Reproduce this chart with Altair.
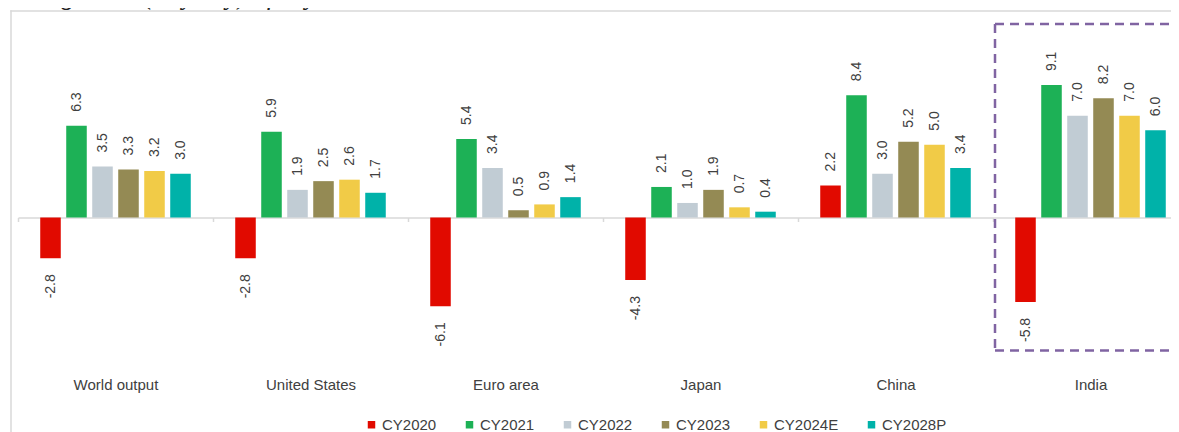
import altair as alt
import pandas as pd

title_text = "GDP growth (% y-o-y) of key economies"
countries = ["World output", "United States", "Euro area", "Japan", "China", "India"]
series = ["CY2020", "CY2021", "CY2022", "CY2023", "CY2024E", "CY2028P"]
colors = ["#E10A00", "#1DB156", "#C1CCD4", "#948A54", "#F1CB47", "#00B2A9"]
v2020 = [-2.8, -2.8, -6.1, -4.3, 2.2, -5.8]
v2021 = [6.3, 5.9, 5.4, 2.1, 8.4, 9.1]
v2022 = [3.5, 1.9, 3.4, 1.0, 3.0, 7.0]
v2023 = [3.3, 2.5, 0.5, 1.9, 5.2, 8.2]
v2024 = [3.2, 2.6, 0.9, 0.7, 5.0, 7.0]
v2028 = [3.0, 1.7, 1.4, 0.4, 3.4, 6.0]

rows = []
for s, vals in zip(series, [v2020, v2021, v2022, v2023, v2024, v2028]):
    for c, v in zip(countries, vals):
        rows.append({"country": c, "series": s, "value": v, "label": f"{v:.1f}"})
df = pd.DataFrame(rows)

FONT = "Liberation Sans"
TXT = "#404040"
GRID = "#D9D9D9"
W, H = 1153, 355
RIGHT = W + 8

x = alt.X(
    "country:N",
    sort=countries,
    scale=alt.Scale(range=[0, 1170], paddingInner=0, paddingOuter=0),
    axis=alt.Axis(
        title=None, labelAngle=0, offset=-145.5, tickBand="extent", ticks=True,
        tickSize=4, tickColor=GRID, tickWidth=1.5, domainColor=GRID,
        domainWidth=1.5, labelPadding=156, labelFontSize=15, labelColor=TXT,
        labelFont=FONT, grid=False,
    ),
)
xo = alt.XOffset("series:N", sort=series,
                 scale=alt.Scale(paddingInner=0.21, paddingOuter=0.855))
y = alt.Y("value:Q", scale=alt.Scale(domain=[-10, 14.4], nice=False, zero=False), axis=None)

base = alt.Chart(df)

bars = base.mark_bar().encode(
    x=x, xOffset=xo, y=y, y2=alt.datum(0),
    color=alt.Color(
        "series:N", sort=series,
        scale=alt.Scale(domain=series, range=colors),
        legend=alt.Legend(
            title=None, orient="none", direction="horizontal",
            legendX=346, legendY=409, symbolType="square", symbolSize=56,
            symbolStrokeWidth=0, labelFontSize=15, labelFont=FONT, labelColor=TXT,
            labelOffset=3, columnPadding=25, gridAlign="each", padding=0,
        ),
    ),
)

pos_lab = base.transform_filter("datum.value >= 0").mark_text(
    angle=270, align="left", baseline="middle", dx=14, fontSize=14, font=FONT, color=TXT
).encode(x=x, xOffset=xo, y=y, text="label:N")

neg_lab = base.transform_filter("datum.value < 0").mark_text(
    angle=270, align="right", baseline="middle", dx=-16, fontSize=14, font=FONT, color=TXT
).encode(x=x, xOffset=xo, y=y, text="label:N")

one = pd.DataFrame({"t": [title_text]})

frame_top = alt.Chart(one).mark_rect(color=GRID).encode(
    x=alt.value(-7.75), x2=alt.value(RIGHT), y=alt.value(2.25), y2=alt.value(3.75)
)
frame_left = alt.Chart(one).mark_rect(color=GRID).encode(
    x=alt.value(-7.75), x2=alt.value(-6.25), y=alt.value(2.25), y2=alt.value(H + 69)
)

PURPLE = "#8064A2"
box_top = alt.Chart(one).mark_rule(color=PURPLE, strokeWidth=2.5, strokeDash=[9, 6]).encode(
    x=alt.value(977), x2=alt.value(RIGHT), y=alt.value(16)
)
box_bottom = alt.Chart(one).mark_rule(color=PURPLE, strokeWidth=2.5, strokeDash=[9, 6]).encode(
    x=alt.value(977), x2=alt.value(RIGHT), y=alt.value(342.5)
)
box_left = alt.Chart(one).mark_rule(color=PURPLE, strokeWidth=2.5, strokeDash=[9, 6]).encode(
    x=alt.value(977), y=alt.value(16), y2=alt.value(342.5)
)

title = alt.Chart(one).mark_text(
    align="left", baseline="alphabetic", font="Liberation Serif", fontStyle="italic",
    fontSize=27, color="#222222"
).encode(x=alt.value(-18), y=alt.value(-4.5), text="t:N")

chart = alt.layer(
    frame_top, frame_left, box_top, box_bottom, box_left,
    bars, pos_lab, neg_lab, title,
).properties(
    width=W, height=H,
    autosize=alt.AutoSizeParams(type="none"),
    padding={"left": 10, "top": 0, "right": 0, "bottom": 69},
).configure_view(stroke="transparent")

chart.save("out.html", embed_options={"renderer": "svg", "actions": False})
